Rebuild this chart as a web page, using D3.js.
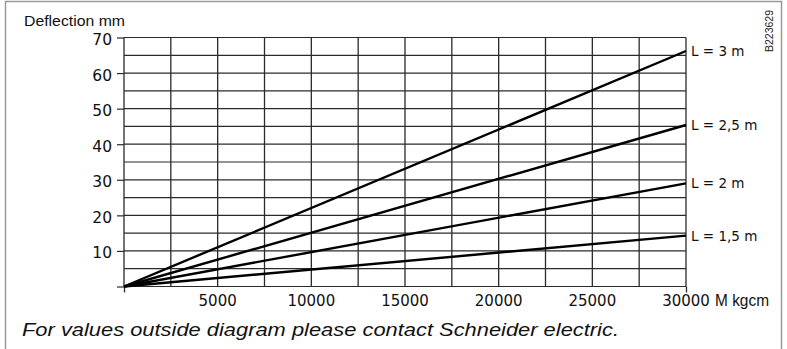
<!DOCTYPE html>
<html>
<head>
<meta charset="utf-8">
<script src="https://cdn.jsdelivr.net/npm/d3@7"></script>
<style>
  html, body { margin: 0; padding: 0; background: #fff; }
  svg { display: block; }
</style>
</head>
<body>
<svg id="chart" width="787" height="349"></svg>
<script>
// Deflection (mm) versus bending moment M (kgcm) for four span lengths
const moments = [0, 30000];
const spanLabels = ["L = 3 m", "L = 2,5 m", "L = 2 m", "L = 1,5 m"];
const deflectionAtMax = [66.2, 45.4, 29.0, 14.3];
const yTicks = [10, 20, 30, 40, 50, 60, 70];
const xTicks = [5000, 10000, 15000, 20000, 25000, 30000];
const drawingRef = "B223629";

const svg = d3.select("#chart");
const W = 787, H = 349;
const margin = { left: 124, right: 101, top: 37.5, bottom: 62.5 };

const x = d3.scaleLinear().domain([0, 30000]).range([margin.left, W - margin.right]);
const y = d3.scaleLinear().domain([0, 70]).range([H - margin.bottom, margin.top]);

const numFont = "'DejaVu Sans', sans-serif";
const txtFont = "'Liberation Sans', Arial, sans-serif";

// outer frame
svg.append("path")
  .attr("d", `M5.5,${H} V1.5 H781.5 V${H}`)
  .attr("fill", "none").attr("stroke", "#9a9a9a").attr("stroke-width", 1.5);

// grid
const gridColor = "#2a2a2a";
const g = svg.append("g");
d3.range(0, 30001, 2500).forEach(v => {
  g.append("line")
    .attr("x1", x(v)).attr("x2", x(v))
    .attr("y1", y(70)).attr("y2", y(0))
    .attr("stroke", gridColor).attr("stroke-width", 1.3);
});
d3.range(0, 71, 5).forEach(v => {
  g.append("line")
    .attr("x1", x(0)).attr("x2", x(30000))
    .attr("y1", y(v)).attr("y2", y(v))
    .attr("stroke", gridColor).attr("stroke-width", 1.2);
});

// y axis ticks and labels
const yAxis = d3.axisLeft(y).tickValues([0].concat(yTicks)).tickSize(7).tickFormat(d => d === 0 ? "" : d);
const ya = svg.append("g").attr("transform", `translate(${x(0)},0)`).call(yAxis);
ya.select(".domain").remove();
ya.selectAll(".tick line").attr("stroke", gridColor).attr("stroke-width", 1.2);
ya.selectAll(".tick text").attr("x", -12).attr("dy", "0.45em").attr("fill", "#111")
  .style("font-family", numFont).style("font-size", "15.5px");

// x axis: extended ticks at both ends, labels below
const xAxis = d3.axisBottom(x).tickValues([0, 30000]).tickSize(6).tickFormat("");
const xa = svg.append("g").attr("transform", `translate(0,${y(0)})`).call(xAxis);
xa.select(".domain").remove();
xa.selectAll(".tick line").attr("stroke", gridColor).attr("stroke-width", 1.3);

svg.append("g").selectAll("text").data(xTicks).join("text")
  .attr("x", d => x(d)).attr("y", 306)
  .attr("text-anchor", "middle").attr("fill", "#111")
  .style("font-family", numFont).style("font-size", "15px")
  .text(d => d);

svg.append("text")
  .attr("x", x(30000) + 29).attr("y", 306)
  .attr("fill", "#111").style("font-family", txtFont).style("font-size", "16px")
  .attr("textLength", 54).attr("lengthAdjust", "spacingAndGlyphs")
  .text("M kgcm");

svg.append("text")
  .attr("x", 24).attr("y", 26)
  .attr("fill", "#111").style("font-family", txtFont).style("font-size", "15.5px")
  .attr("textLength", 101).attr("lengthAdjust", "spacingAndGlyphs")
  .text("Deflection mm");

// deflection lines
const line = d3.line().x(d => x(d[0])).y(d => y(d[1]));
deflectionAtMax.forEach((dmax, i) => {
  svg.append("path")
    .datum(moments.map(m => [m, dmax * m / 30000]))
    .attr("d", line)
    .attr("fill", "none").attr("stroke", "#000").attr("stroke-width", 2.4);
  svg.append("text")
    .attr("x", x(30000) + 5).attr("y", y(dmax))
    .attr("dy", "0.38em").attr("fill", "#111")
    .style("font-family", numFont).style("font-size", "13.5px")
    .text(spanLabels[i]);
});

// drawing reference, rotated
svg.append("text")
  .attr("transform", "translate(773,10) rotate(-90)")
  .attr("text-anchor", "end").attr("fill", "#222")
  .style("font-family", txtFont).style("font-size", "10.5px")
  .text(drawingRef);

// footnote
svg.append("text")
  .attr("x", 22).attr("y", 336)
  .attr("fill", "#111").style("font-family", txtFont).style("font-size", "18px")
  .style("font-style", "italic")
  .attr("textLength", 597).attr("lengthAdjust", "spacingAndGlyphs")
  .text("For values outside diagram please contact Schneider electric.");
</script>
</body>
</html>
